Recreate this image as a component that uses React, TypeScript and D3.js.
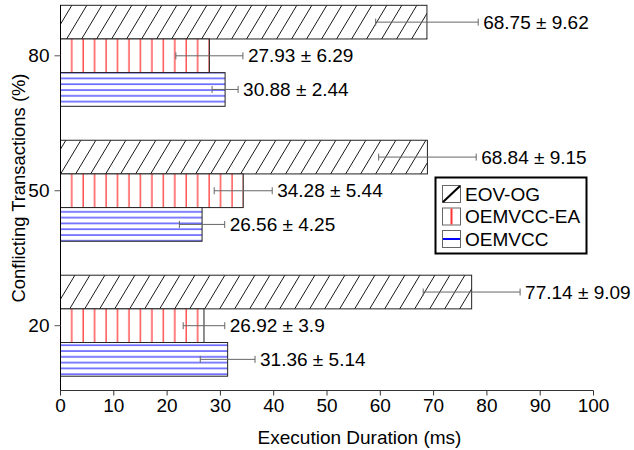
import React from "react";
import * as d3 from "d3";

const categories = ["80", "50", "20"];
const seriesNames = ["EOV-OG", "OEMVCC-EA", "OEMVCC"];
const eovOgValues = [68.75, 68.84, 77.14];
const eovOgErrors = [9.62, 9.15, 9.09];
const eaValues = [27.93, 34.28, 26.92];
const eaErrors = [6.29, 5.44, 3.9];
const oemValues = [30.88, 26.56, 31.36];
const oemErrors = [2.44, 4.25, 5.14];
const xTicks = [0, 10, 20, 30, 40, 50, 60, 70, 80, 90, 100];

const seriesValues = [eovOgValues, eaValues, oemValues];
const seriesErrors = [eovOgErrors, eaErrors, oemErrors];
const seriesFill = ["url(#hatchDiag)", "url(#hatchRed)", "url(#hatchBlue)"];

const W = 634;
const H = 450;
const FONT = "Arial, 'Liberation Sans', Helvetica, sans-serif";

export default function App() {
  const x = d3.scaleLinear().domain([0, 100]).range([60.5, 593.5]);
  const y = d3.scalePoint<string>().domain(categories).range([55.8, 325.7]);
  const sub = d3.scaleBand<string>().domain(seriesNames).range([-50.5, 50.5]);
  const bh = sub.bandwidth();
  const axisY = 390.5;
  const topY = 5;

  return (
    <svg width={W} height={H} style={{ position: "absolute", left: 0, top: 0, fontFamily: FONT }}>
      <defs>
        <pattern id="hatchDiag" patternUnits="userSpaceOnUse" width={15} height={25}>
          <rect width={15} height={25} fill="#fff" />
          <line x1={0} y1={25} x2={15} y2={0} stroke="#000" strokeWidth={0.9} />
          <line x1={-15} y1={25} x2={0} y2={0} stroke="#000" strokeWidth={0.9} />
          <line x1={15} y1={25} x2={30} y2={0} stroke="#000" strokeWidth={0.9} />
        </pattern>
        <pattern id="hatchRed" patternUnits="userSpaceOnUse" width={11.45} height={10}>
          <rect width={11.45} height={10} fill="#fff" />
          <line x1={3} y1={0} x2={3} y2={10} stroke="#ff0000" strokeWidth={1} />
        </pattern>
        <pattern id="hatchBlue" patternUnits="userSpaceOnUse" width={10} height={5.8} y={1}>
          <rect width={10} height={5.8} fill="#fff" />
          <line x1={0} y1={2} x2={10} y2={2} stroke="#0000ff" strokeWidth={1} />
        </pattern>
      </defs>

      {/* bars */}
      {categories.map((c, ci) => (
        <g key={c}>
          {seriesNames.map((s, si) => {
            const v = seriesValues[si][ci];
            const yy = (y(c) as number) + (sub(s) as number);
            return (
              <rect
                key={s}
                x={x(0)}
                y={yy}
                width={x(v) - x(0)}
                height={bh}
                fill={seriesFill[si]}
                stroke="#222"
                strokeWidth={1}
              />
            );
          })}
        </g>
      ))}

      {/* error bars and labels */}
      {categories.map((c, ci) => (
        <g key={"e" + c}>
          {seriesNames.map((s, si) => {
            const v = seriesValues[si][ci];
            const e = seriesErrors[si][ci];
            const cy = (y(c) as number) + (sub(s) as number) + bh / 2;
            const x1 = x(v - e);
            const x2 = x(v + e);
            return (
              <g key={s}>
                <line x1={x1} x2={x2} y1={cy} y2={cy} stroke="#666" strokeWidth={1} />
                <line x1={x1} x2={x1} y1={cy - 3.5} y2={cy + 3.5} stroke="#666" strokeWidth={1} />
                <line x1={x2} x2={x2} y1={cy - 3.5} y2={cy + 3.5} stroke="#666" strokeWidth={1} />
                <text x={x2 + 5} y={cy} dy="0.35em" fontSize={19} fill="#000">
                  {`${v} ± ${e}`}
                </text>
              </g>
            );
          })}
        </g>
      ))}

      {/* x axis */}
      <line x1={x(0)} x2={x(100)} y1={axisY} y2={axisY} stroke="#333" strokeWidth={1} />
      {xTicks.map((t) => (
        <g key={t} transform={`translate(${x(t)},${axisY})`}>
          <line y1={0} y2={5} stroke="#333" />
          <text y={8} dy="0.71em" textAnchor="middle" fontSize={19} fill="#000">
            {t}
          </text>
        </g>
      ))}
      <text x={359.5} y={444} textAnchor="middle" fontSize={19} fill="#000">
        Execution Duration (ms)
      </text>

      {/* y axis */}
      <line x1={x(0)} x2={x(0)} y1={topY} y2={axisY} stroke="#000" strokeWidth={1} />
      {categories.map((c) => (
        <g key={c} transform={`translate(${x(0)},${y(c)})`}>
          <line x1={-6} x2={0} stroke="#555" />
          <text x={-11} dy="0.35em" textAnchor="end" fontSize={19} fill="#000">
            {c}
          </text>
        </g>
      ))}
      <text
        transform={`translate(25,188) rotate(-90)`}
        textAnchor="middle"
        fontSize={18.4}
        fill="#000"
      >
        Conflicting Transactions (%)
      </text>

      {/* legend */}
      <g>
        <rect x={435.5} y={177.5} width={151} height={76} fill="#fff" stroke="#000" strokeWidth={2} />
        {seriesNames.map((s, i) => {
          const cy = 194 + i * 22.5;
          return (
            <g key={s}>
              <rect x={442.5} y={cy - 8.5} width={18} height={17} fill="#fff" stroke="#666" strokeWidth={1} />
              {i === 0 && <line x1={443} y1={cy + 8} x2={460} y2={cy - 8} stroke="#000" strokeWidth={2} />}
              {i === 1 && <line x1={451.5} y1={cy - 8} x2={451.5} y2={cy + 8} stroke="#ff3333" strokeWidth={2} />}
              {i === 2 && <line x1={443} y1={cy} x2={460} y2={cy} stroke="#0000ff" strokeWidth={2} />}
              <text x={465} y={cy} dy="0.35em" fontSize={19} fill="#000">
                {s}
              </text>
            </g>
          );
        })}
      </g>
    </svg>
  );
}
